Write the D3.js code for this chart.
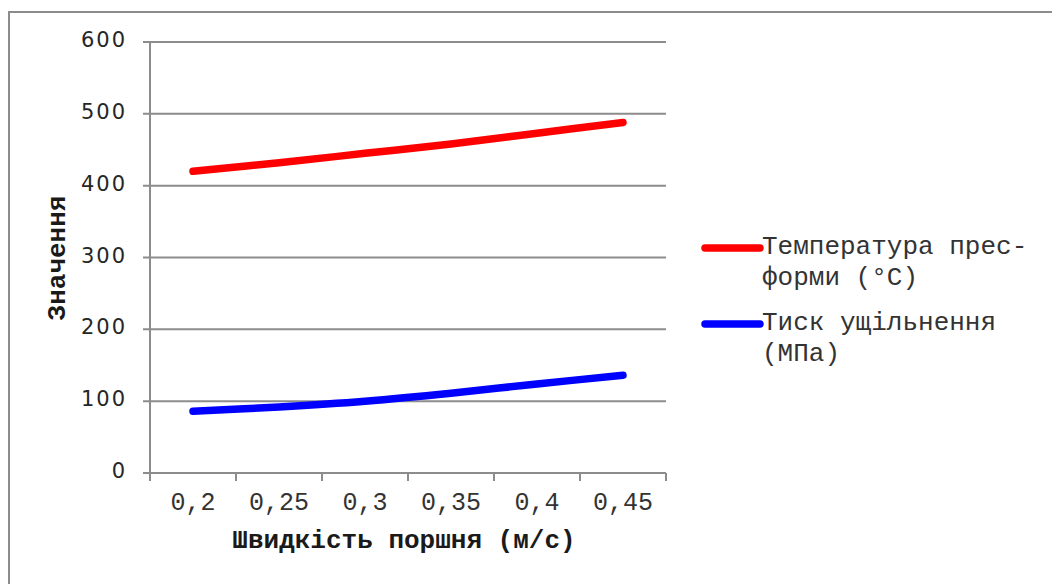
<!DOCTYPE html>
<html>
<head>
<meta charset="utf-8">
<script src="https://cdn.jsdelivr.net/npm/d3@7"></script>
<style>
    body { margin: 0; background: #fff; }
    svg { display: block; }
</style>
</head>
<body>
<svg id="chart" width="1052" height="584"></svg>
<script>
// speeds (m/s) and the two measured series
var categories = ["0,2", "0,25", "0,3", "0,35", "0,4", "0,45"];
var temperature = [420, 432, 445, 458, 473, 488];
var pressure = [86, 92, 100, 111, 124, 136];
var yTicks = [0, 100, 200, 300, 400, 500, 600];
var seriesNames = [["Температура прес-", "форми (°C)"], ["Тиск ущільнення", "(МПа)"]];
var seriesColors = ["#ff0000", "#0000ff"];

var svg = d3.select("#chart");
var mono = "'Liberation Mono', 'Courier New', monospace";
var gridColor = "#8c8c8c";

// outer frame (cut at right and bottom like the original)
svg.append("path")
    .attr("d", "M9,584 V12 H1052")
    .attr("fill", "none")
    .attr("stroke", gridColor)
    .attr("stroke-width", 2);

var x = d3.scaleBand()
    .domain(categories)
    .range([150, 666]);

var y = d3.scaleLinear()
    .domain([0, 600])
    .range([473, 42]);

// horizontal grid
svg.append("g")
    .selectAll("line")
    .data(yTicks)
    .enter()
    .append("line")
    .attr("x1", 143)
    .attr("x2", 666)
    .attr("y1", d => y(d))
    .attr("y2", d => y(d))
    .attr("stroke", gridColor)
    .attr("stroke-width", 2);

// y axis line
svg.append("line")
    .attr("x1", 150).attr("x2", 150)
    .attr("y1", y(600)).attr("y2", 481)
    .attr("stroke", gridColor)
    .attr("stroke-width", 2);

// x ticks at band edges
var edges = categories.map(d => x(d)).concat([x.range()[1]]);
svg.append("g")
    .selectAll("line")
    .data(edges)
    .enter()
    .append("line")
    .attr("x1", d => d).attr("x2", d => d)
    .attr("y1", y(0)).attr("y2", 481)
    .attr("stroke", gridColor)
    .attr("stroke-width", 2);

// y tick labels
svg.append("g")
    .selectAll("text")
    .data(yTicks)
    .enter()
    .append("text")
    .attr("x", 127)
    .attr("y", d => y(d) + 5)
    .attr("text-anchor", "end")
    .style("font-family", "'DejaVu Sans', Verdana, sans-serif")
    .style("font-size", "21px")
    .style("letter-spacing", "2px")
    .attr("fill", "#262626")
    .text(d => d);

// x tick labels
svg.append("g")
    .selectAll("text")
    .data(categories)
    .enter()
    .append("text")
    .attr("x", d => x(d) + x.bandwidth() / 2)
    .attr("y", 510)
    .attr("text-anchor", "middle")
    .style("font-family", mono)
    .style("font-size", "25px")
    .attr("fill", "#333")
    .text(d => d);

// axis titles
svg.append("text")
    .attr("x", 404)
    .attr("y", 548)
    .attr("text-anchor", "middle")
    .style("font-family", mono)
    .style("font-size", "26px")
    .style("font-weight", "bold")
    .attr("fill", "#1a1a1a")
    .text("Швидкість поршня (м/с)");

svg.append("text")
    .attr("transform", "translate(65,258) rotate(-90)")
    .attr("text-anchor", "middle")
    .style("font-family", mono)
    .style("font-size", "26px")
    .style("font-weight", "bold")
    .attr("fill", "#1a1a1a")
    .text("Значення");

// series lines
var line = d3.line()
    .x((d, i) => x(categories[i]) + x.bandwidth() / 2)
    .y(d => y(d))
    .curve(d3.curveCatmullRom.alpha(0.5));

[temperature, pressure].forEach(function (values, i) {
    svg.append("path")
        .attr("d", line(values))
        .attr("fill", "none")
        .attr("stroke", seriesColors[i])
        .attr("stroke-width", 7.5)
        .attr("stroke-linecap", "round")
        .attr("stroke-linejoin", "round");
});

// legend
var legendY = [248, 324];
seriesNames.forEach(function (lines, i) {
    var g = svg.append("g");
    g.append("line")
        .attr("x1", 705).attr("x2", 760)
        .attr("y1", legendY[i]).attr("y2", legendY[i])
        .attr("stroke", seriesColors[i])
        .attr("stroke-width", 7.5)
        .attr("stroke-linecap", "round");
    var t = g.append("text")
        .style("font-family", mono)
        .style("font-size", "26px")
        .attr("fill", "#333");
    lines.forEach(function (s, j) {
        t.append("tspan")
            .attr("x", 762)
            .attr("y", legendY[i] + 6 + j * 31)
            .text(s);
    });
});
</script>
</body>
</html>
